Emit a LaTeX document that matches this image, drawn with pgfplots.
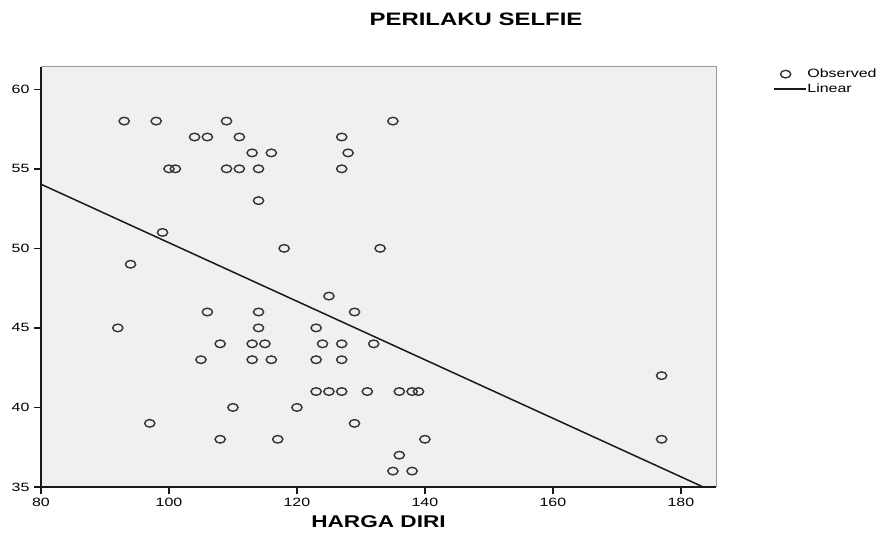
\documentclass[border=0pt]{standalone}
\usepackage{fontspec}
\setmainfont{Liberation Sans}[FakeStretch=1.33]
\usepackage{pgfplots}
\pgfplotsset{compat=1.18}
\definecolor{plotbg}{HTML}{F0F0F0}
\pgfplotsset{
  obslegend/.style={legend image code/.code={\draw[##1] plot coordinates {(12pt,0pt)}; \path[draw=none] (0pt,0pt) -- (32pt,0pt);}},
  linlegend/.style={legend image code/.code={\draw[##1] (0pt,0pt) -- (32pt,0pt);}},
}
\begin{document}
\begin{tikzpicture}[x=1pt,y=1pt]
\begin{axis}[
  at={(0pt,0pt)}, anchor=origin,
  scale only axis, width=675pt, height=420pt,
  xmin=80, xmax=185.5, ymin=35, ymax=61.4,
  xtick={80,100,...,180}, ytick={35,40,...,60},
  axis lines=left, axis line style={-, line width=1.5pt, black!90},
  axis background/.style={fill=plotbg, draw=gray!80, line width=1pt},
  tick align=outside, major tick length=7pt,
  tick style={black!90, line width=1.5pt},
  /pgf/number format/assume math mode=true,
  tick label style={font=\fontsize{12}{14}\selectfont},
  xticklabel style={yshift=-1pt},
  yticklabel style={xshift=-1pt},
  xlabel={\textbf{HARGA DIRI}},
  xlabel style={font=\fontsize{17}{19}\selectfont, yshift=-2pt},
  legend cell align=left,
  legend style={at={(1.084,0.998)}, anchor=north west, draw=none, fill=none,
    font=\fontsize{12}{13}\selectfont, row sep=2.5pt, inner sep=0pt,
    nodes={inner sep=1pt}},
  clip=false,
]
\addplot[only marks, mark=o, mark size=3.8pt,
  mark options={xscale=1.35, line width=1.4pt, draw=black!80}, obslegend]
coordinates {
(93,58)(98,58)(109,58)(135,58)
(104,57)(106,57)(111,57)(127,57)
(113,56)(116,56)(128,56)
(100,55)(101,55)(109,55)(111,55)(114,55)(127,55)
(114,53)
(99,51)
(118,50)(133,50)
(94,49)
(125,47)
(106,46)(114,46)(129,46)
(92,45)(114,45)(123,45)
(108,44)(113,44)(115,44)(124,44)(127,44)(132,44)
(105,43)(113,43)(116,43)(123,43)(127,43)
(177,42)
(123,41)(125,41)(127,41)(131,41)(136,41)(138,41)(139,41)
(110,40)(120,40)
(97,39)(129,39)
(108,38)(117,38)(140,38)(177,38)
(136,37)
(135,36)(138,36)
};
\addlegendentry{Observed}
\addplot[black!90, line width=1.5pt, linlegend]
coordinates {(80,54.03) (183.5,35.0)};
\addlegendentry{Linear}
\end{axis}
\node[font=\fontsize{18}{20}\selectfont\bfseries] at (435,468) {PERILAKU SELFIE};
\path (-41,-61) rectangle (844,487);
\end{tikzpicture}
\end{document}
